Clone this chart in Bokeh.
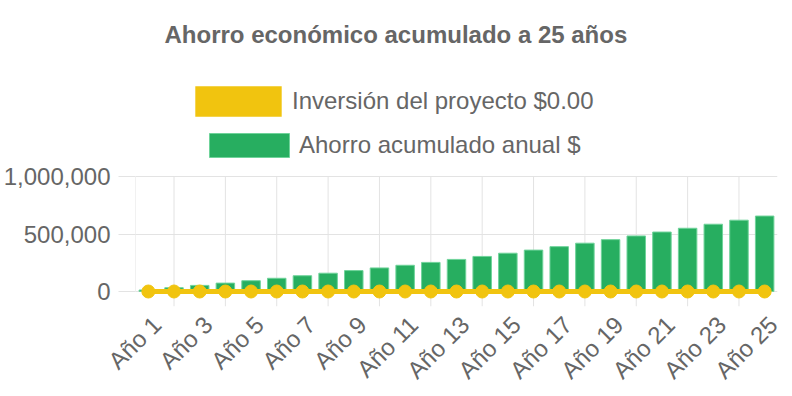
import math
from bokeh.plotting import figure
from bokeh.models import Range1d, FixedTicker, NumeralTickFormatter, Legend, LegendItem
from bokeh.embed import file_html
from bokeh.resources import INLINE

# ---- data ----
years = ["Año 1", "Año 2", "Año 3", "Año 4", "Año 5", "Año 6", "Año 7", "Año 8",
         "Año 9", "Año 10", "Año 11", "Año 12", "Año 13", "Año 14", "Año 15",
         "Año 16", "Año 17", "Año 18", "Año 19", "Año 20", "Año 21", "Año 22",
         "Año 23", "Año 24", "Año 25"]
ahorro = [13000, 33000, 53000, 73000, 94000, 115000, 137000, 159000, 182000,
          205000, 228000, 253000, 279000, 305000, 333000, 360000, 390000,
          420000, 451000, 483000, 517000, 550000, 585000, 620000, 656000]
inversion = [0, 0, 0, 0, 0, 0, 0, 0, 0, 0, 0, 0, 0, 0, 0, 0, 0, 0, 0, 0, 0, 0, 0, 0, 0]
y_ticks = [0, 500000, 1000000]

title_text = "Ahorro económico acumulado a 25 años"
label_inv = "Inversión del proyecto $0.00"
label_aho = "Ahorro acumulado anual $"

GREEN = "#27ae60"
YELLOW = "#f1c40f"
GRID = "#e3e3e3"
TEXT = "#666666"
FONT = "Liberation Sans"

# ---- layout (pixels) ----
W, H = 792, 396
FRAME_L, FRAME_R = 135, 777
FRAME_T, FRAME_B = 54, 306
Y_MAX_PX, Y_ZERO_PX = 176, 291          # where the top tick and zero sit
px_per_unit = (Y_ZERO_PX - Y_MAX_PX) / y_ticks[-1]
y_start = -(FRAME_B - Y_ZERO_PX) / px_per_unit
y_end = y_ticks[-1] + (Y_MAX_PX - FRAME_T) / px_per_unit

xs = list(range(1, len(years) + 1))
odd_pos = xs[0::2]
even_pos = xs[1::2]
LABEL_SHIFT = 0.33  # label anchor nudge (in category units)
label_pos = [i + LABEL_SHIFT for i in odd_pos]

p = figure(width=W, height=H, output_backend="svg", toolbar_location=None,
           x_range=Range1d(0.5, len(years) + 0.5),
           y_range=Range1d(y_start, y_end),
           min_border_left=FRAME_L, min_border_right=W - FRAME_R,
           min_border_top=FRAME_T, min_border_bottom=H - FRAME_B)
p.outline_line_color = None
p.background_fill_color = "white"

# grids: horizontal via the grid, vertical drawn only up to the top tick
p.xgrid.visible = False
p.ygrid.ticker = FixedTicker(ticks=y_ticks)
p.ygrid.grid_line_color = GRID
p.segment(x0=even_pos, y0=[y_start] * len(even_pos), x1=even_pos,
          y1=[y_ticks[-1]] * len(even_pos), line_color=GRID, line_width=1)
# left frame line (y axis line from 0 to max)
p.segment(x0=[p.x_range.start], y0=[y_ticks[0]], x1=[p.x_range.start], y1=[y_ticks[-1]],
          line_color=GRID, line_width=1)

# axes
p.xaxis.ticker = FixedTicker(ticks=label_pos)
p.xaxis.major_label_overrides = {lp: years[i - 1] for lp, i in zip(label_pos, odd_pos)}
p.xaxis.major_label_orientation = math.pi / 4
p.xaxis.axis_line_color = None
p.xaxis.major_tick_line_color = None
p.xaxis.minor_tick_line_color = None
p.xaxis.major_label_text_font = FONT
p.xaxis.major_label_text_font_size = "24px"
p.xaxis.major_label_text_color = TEXT
p.xaxis.major_label_standoff = 8

p.yaxis.ticker = FixedTicker(ticks=y_ticks)
p.yaxis.formatter = NumeralTickFormatter(format="0,0")
p.yaxis.axis_line_color = None
p.yaxis.major_tick_out = 17
p.yaxis.major_tick_in = 0
p.yaxis.major_tick_line_color = GRID
p.yaxis.minor_tick_line_color = None
p.yaxis.major_label_text_font = FONT
p.yaxis.major_label_text_font_size = "24px"
p.yaxis.major_label_text_color = TEXT
p.yaxis.major_label_standoff = 8

# series
bars = p.vbar(x=xs, top=ahorro, width=0.72, fill_color=GREEN,
              line_color="#6fd39a", line_width=1)
# zero-height bars of the investment series: used as its legend swatch
inv_swatch = p.vbar(x=xs, top=inversion, width=0.72, fill_color=YELLOW, line_color=None)
p.line(xs, inversion, line_color=YELLOW, line_width=5)
p.scatter(xs, inversion, size=13, fill_color=YELLOW, line_color=YELLOW)

def make_legend(label, rend, box_left, box_top, box_w, box_h, standoff):
    # Bokeh insets area swatches by 10% of the glyph box on every side
    gw, gh = int(round(box_w / 0.8)), int(round(box_h / 0.8))
    left = box_left - 0.1 * gw
    bottom = box_top + 0.9 * gh
    return Legend(items=[LegendItem(label=label, renderers=[rend])],
                  location=(int(round(left - FRAME_L)), int(round(FRAME_B - bottom))),
                  orientation="vertical", padding=0, margin=0, spacing=0,
                  glyph_width=gw, glyph_height=gh, label_height=gh,
                  label_standoff=standoff,
                  label_text_font=FONT, label_text_font_size="24px",
                  label_text_color=TEXT, border_line_color=None,
                  background_fill_alpha=0)

p.add_layout(make_legend(label_inv, inv_swatch, 195, 86, 86, 30, 0))
p.add_layout(make_legend(label_aho, bars, 209, 133, 80, 24, 0))

# title
p.title.text = title_text
p.title.align = "left"
p.title.offset = 29
p.title.standoff = 14
p.title.text_font = FONT
p.title.text_font_size = "24px"
p.title.text_font_style = "bold"
p.title.text_color = TEXT

open("out.html", "w").write(file_html(p, INLINE))
